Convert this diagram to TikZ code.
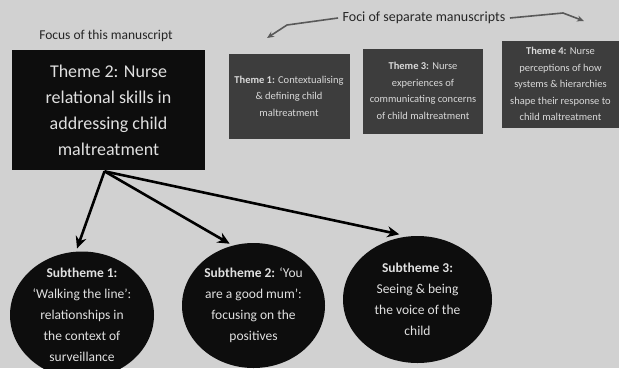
\documentclass[tikz,border=0pt]{standalone}
\usepackage{fontspec}
\setmainfont{Carlito}
\usetikzlibrary{arrows.meta,shapes.geometric,positioning}

\begin{document}
\begin{tikzpicture}[x=1pt,y=-1pt,->,>={Stealth[length=12pt,width=11pt]},
	line width=2.6pt]
	\tikzstyle{focus}=[fill=black!95,text=white!88!black,minimum width=193pt,minimum height=120pt,inner sep=0pt,align=center,font=\fontsize{18}{26}\selectfont]
	\tikzstyle{other}=[fill=black!76,text=white!85!black,minimum height=85pt,inner sep=0pt,align=center,font=\fontsize{10.5}{16.5}\selectfont]
	\tikzstyle{sub}=[ellipse,fill=black!95,text=white!88!black,inner xsep=-12pt,inner ysep=-25pt,align=center,font=\fontsize{13.5}{21}\selectfont]
	\tikzstyle{tag}=[text=black!85,font=\fontsize{13.5}{15}\selectfont]
	\tikzstyle{foci}=[draw=black!65,line width=1.6pt,>={Stealth[length=7pt,width=6pt]}]
	
	\fill[-,black!18] (0,0) rectangle (619,368);
	\useasboundingbox (0,0) rectangle (619,368);
	
	\node[tag] (this) at (106,36) {Focus of this manuscript};
	\node[focus] (t2) at (108.5,110) {Theme 2: Nurse\\relational skills in\\addressing child\\maltreatment};
	
	\node[tag,font=\fontsize{14}{15}\selectfont] (sep) at (424,18) {Foci of separate manuscripts};
	\node[other,minimum width=121pt] (t1) at (289,96) {\textbf{Theme 1:} Contextualising\\\& defining child\\maltreatment};
	\node[other,minimum width=120pt] (t3) at (423,91) {\textbf{Theme 3:} Nurse\\experiences of\\communicating concerns\\of child maltreatment};
	\node[other,minimum width=117pt,minimum height=87pt] (t4) at (560.5,84) {\textbf{Theme 4:} Nurse\\perceptions of how\\systems \& hierarchies\\shape their response to\\child maltreatment};
	
	\node[sub,minimum width=144pt,minimum height=127pt] (s1) at (82,315) {\textbf{Subtheme 1:}\\`Walking the line':\\relationships in\\the context of\\surveillance};
	\node[sub,minimum width=143pt,minimum height=125pt] (s2) at (253.5,305.5) {\textbf{Subtheme 2:} `You\\are a good mum':\\focusing on the\\positives};
	\node[sub,minimum width=149pt,minimum height=127pt] (s3) at (417.5,299.5) {\textbf{Subtheme 3:}\\Seeing \& being\\the voice of the\\child};
	
	\coordinate (sepl) at (287,25);
	\coordinate (sepla) at (267,38);
	\coordinate (sepr) at (563,13);
	\coordinate (sepra) at (584,21);
	
	\draw[foci] (sep.west) -- (sepl) -- (sepla);
	\draw[foci] (sep.east) -- (sepr) -- (sepra);
	
	\path[shorten >=2pt]
	([xshift=-4pt]t2.south) edge (s1.95)
	([xshift=-4pt]t2.south) edge (s2.110)
	([xshift=-4pt]t2.south) edge[shorten >=6pt] (s3.101)
	;
\end{tikzpicture}
\end{document}
